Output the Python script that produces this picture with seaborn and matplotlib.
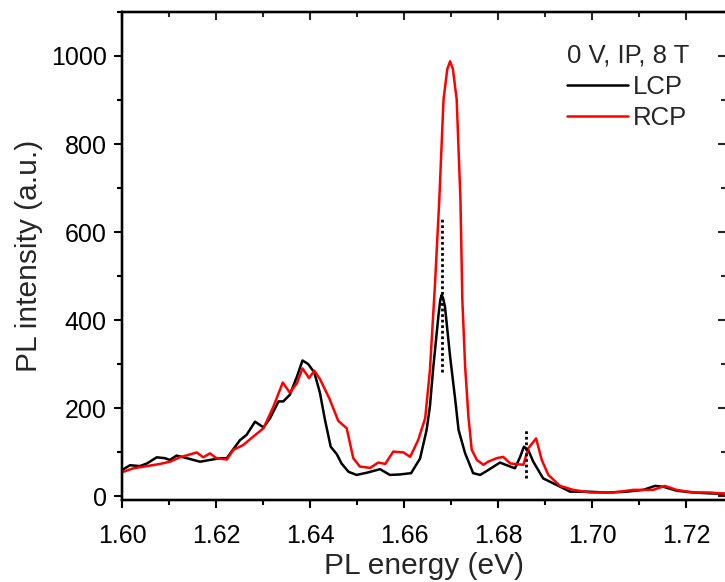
import matplotlib
matplotlib.use("Agg")
import matplotlib.pyplot as plt
from matplotlib.ticker import MultipleLocator
import seaborn as sns
import pandas as pd

# PL spectra, left and right circular polarisation
lcp_energy = [1.6000, 1.6017, 1.6038, 1.6053, 1.6074, 1.6091, 1.6102, 1.6116, 1.6138, 1.6166,
              1.6187, 1.6209, 1.6223, 1.6233, 1.6251, 1.6265, 1.6283, 1.6301, 1.6315, 1.6333,
              1.6343, 1.6357, 1.6372, 1.6384, 1.6396, 1.6409, 1.6421, 1.6432, 1.6444, 1.6457,
              1.6467, 1.6482, 1.6499, 1.6521, 1.6549, 1.6570, 1.6591, 1.6615, 1.6634, 1.6648,
              1.6655, 1.6662, 1.6673, 1.6677, 1.6680, 1.6683, 1.6687, 1.6698, 1.6709, 1.6716,
              1.6730, 1.6747, 1.6762, 1.6779, 1.6804, 1.6826, 1.6836, 1.6847, 1.6855, 1.6864,
              1.6875, 1.6896, 1.6925, 1.6953, 1.6989, 1.7031, 1.7074, 1.7109, 1.7134, 1.7152,
              1.7180, 1.7216, 1.7251, 1.7285]
lcp_intensity = [59, 70, 68, 74, 88, 86, 82, 92, 86, 78,
                 82, 86, 86, 101, 127, 139, 169, 156, 177, 215,
                 215, 230, 271, 308, 300, 281, 235, 172, 112, 95,
                 74, 55, 48, 53, 61, 48, 49, 52, 85, 150,
                 203, 290, 408, 445, 457, 450, 431, 317, 218, 150,
                 97, 52, 48, 59, 76, 67, 63, 89, 112, 105,
                 78, 40, 25, 10, 10, 8, 10, 14, 23, 21,
                 12, 8, 6, 5]

rcp_energy = [1.6000, 1.6024, 1.6053, 1.6081, 1.6102, 1.6123, 1.6159, 1.6173, 1.6187, 1.6201,
              1.6223, 1.6237, 1.6258, 1.6279, 1.6301, 1.6322, 1.6342, 1.6357, 1.6372, 1.6384,
              1.6398, 1.6409, 1.6421, 1.6441, 1.6460, 1.6478, 1.6492, 1.6506, 1.6528, 1.6545,
              1.6560, 1.6577, 1.6599, 1.6613, 1.6630, 1.6645, 1.6655, 1.6666, 1.6675, 1.6684,
              1.6692, 1.6698, 1.6704, 1.6712, 1.6720, 1.6724, 1.6730, 1.6737, 1.6744, 1.6755,
              1.6769, 1.6779, 1.6797, 1.6811, 1.6826, 1.6854, 1.6864, 1.6881, 1.6893, 1.6907,
              1.6932, 1.6960, 1.6996, 1.7045, 1.7088, 1.7130, 1.7155, 1.7180, 1.7216, 1.7251,
              1.7285]
rcp_intensity = [54, 63, 68, 73, 78, 88, 99, 88, 97, 86,
                 83, 105, 116, 135, 154, 203, 258, 235, 256, 290,
                 268, 285, 266, 222, 171, 154, 86, 67, 64, 76,
                 73, 101, 99, 89, 127, 177, 285, 484, 673, 901,
                 970, 988, 970, 901, 673, 446, 294, 180, 105, 82,
                 71, 78, 86, 89, 74, 71, 108, 131, 82, 48,
                 23, 14, 8, 8, 14, 14, 23, 14, 8, 8,
                 5]

# dotted markers at the LCP peak positions: (energy, bottom, top)
marker_energy = [1.6680, 1.6860]
marker_low = [283, 41]
marker_high = [635, 150]

legend_title = "0 V, IP, 8 T"
series_names = ["LCP", "RCP"]
series_colors = ["black", "#ff0000"]
xtick_values = [1.60, 1.62, 1.64, 1.66, 1.68, 1.70, 1.72]
xtick_labels = ["1.60", "1.62", "1.64", "1.66", "1.68", "1.70", "1.72"]

sns.set_style("ticks")
plt.rcParams["font.family"] = ["Liberation Sans", "DejaVu Sans"]

TICK_FS = 18
LABEL_FS = 21.5
LEGEND_FS = 18.5

fig = plt.figure(figsize=(7.25, 5.82), dpi=100)
ax = fig.add_axes([0.1683, 0.1409, 0.8331, 0.8385])

df = pd.concat([
    pd.DataFrame({"energy": lcp_energy, "intensity": lcp_intensity, "pol": series_names[0]}),
    pd.DataFrame({"energy": rcp_energy, "intensity": rcp_intensity, "pol": series_names[1]}),
])
sns.lineplot(data=df, x="energy", y="intensity", hue="pol",
             palette=dict(zip(series_names, series_colors)),
             linewidth=1.8, ax=ax, estimator=None, sort=True)

ax.vlines(marker_energy, marker_low, marker_high, colors="black",
          linestyles=(0, (1, 1)), linewidth=2)

ax.set_xlim(1.60, 1.7285)
ax.set_ylim(-9, 1100)
ax.xaxis.set_minor_locator(MultipleLocator(0.01))
ax.yaxis.set_major_locator(MultipleLocator(200))
ax.yaxis.set_minor_locator(MultipleLocator(100))
ax.set_xticks(xtick_values)
ax.set_xticklabels(xtick_labels)

for s in ax.spines.values():
    s.set_visible(True)
    s.set_linewidth(1.6)
    s.set_color("black")

ax.tick_params(which="both", top=False, right=False, direction="out",
               width=1.5, colors="black", labelsize=TICK_FS)
ax.tick_params(axis="x", which="both", pad=11)
ax.tick_params(axis="y", which="both", pad=5)
ax.tick_params(which="major", length=6)
ax.tick_params(which="minor", length=3.5)

# inward ticks on the top and right frame
ax_top = ax.twiny()
ax_top.set_xlim(ax.get_xlim())
ax_top.xaxis.set_major_locator(MultipleLocator(0.02))
ax_top.xaxis.set_minor_locator(MultipleLocator(0.01))
ax_top.tick_params(axis="x", which="both", direction="in", width=1.5,
                   top=True, bottom=False, labeltop=False, labelbottom=False)
ax_top.tick_params(axis="x", which="major", length=6)
ax_top.tick_params(axis="x", which="minor", length=3.5)
ax_top.tick_params(axis="y", which="both", left=False, right=False,
                   labelleft=False, labelright=False)
ax_top.grid(False)

ax_right = ax.twinx()
ax_right.set_ylim(ax.get_ylim())
ax_right.yaxis.set_major_locator(MultipleLocator(200))
ax_right.yaxis.set_minor_locator(MultipleLocator(100))
ax_right.tick_params(axis="y", which="both", direction="in", width=1.5,
                     right=True, left=False, labelright=False, labelleft=False)
ax_right.tick_params(axis="y", which="major", length=6)
ax_right.tick_params(axis="y", which="minor", length=3.5)
ax_right.tick_params(axis="x", which="both", top=False, bottom=False,
                     labeltop=False, labelbottom=False)
ax_right.grid(False)
for a in (ax_top, ax_right):
    for s in a.spines.values():
        s.set_linewidth(1.6)
        s.set_color("black")

ax.set_xlabel("PL energy (eV)", fontsize=LABEL_FS, labelpad=3)
ax.set_ylabel("PL intensity (a.u.)", fontsize=LABEL_FS, labelpad=6)

leg = ax.legend(title=legend_title, loc="upper left", bbox_to_anchor=(0.737, 0.935),
                frameon=False, fontsize=LEGEND_FS, title_fontsize=LEGEND_FS, alignment="left",
                handlelength=2.35, handletextpad=0.2, labelspacing=0.28,
                borderpad=0, borderaxespad=0)
for line in leg.get_lines():
    line.set_linewidth(1.8)

fig.savefig("out.png", dpi=100)
